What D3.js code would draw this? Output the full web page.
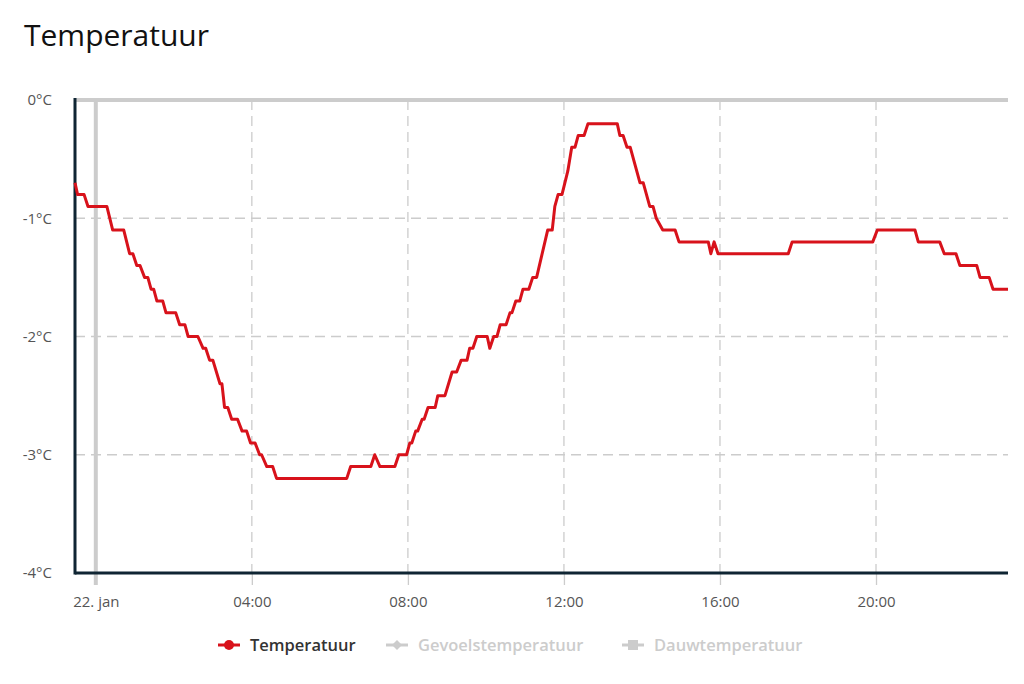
<!DOCTYPE html>
<html>
<head>
<meta charset="utf-8">
<script src="https://cdn.jsdelivr.net/npm/d3@7"></script>
<style>
  body { margin: 0; background: #fff; font-family: "Open Sans", sans-serif; }
  #viz svg { display: block; }
</style>
</head>
<body>
<div id="viz"></div>
<script>
// breakpoints of the step-like temperature line (time, °C)
const times = [
  "2024-01-21T23:28", "2024-01-21T23:32", "2024-01-21T23:42", "2024-01-21T23:48",
  "00:17", "00:26", "00:43", "00:52", "00:57", "01:03", "01:08", "01:15", "01:20",
  "01:25", "01:29", "01:34", "01:43", "01:48", "02:03", "02:09", "02:17", "02:22",
  "02:37", "02:45", "02:49", "02:55", "03:00", "03:11", "03:14", "03:18", "03:23",
  "03:29", "03:38", "03:45", "03:52", "03:58", "04:05", "04:12", "04:15", "04:23",
  "04:32", "04:38", "06:26", "06:32", "07:03", "07:09", "07:17", "07:40", "07:46",
  "07:58", "08:03", "08:06", "08:12", "08:15", "08:22", "08:25", "08:31", "08:42",
  "08:46", "08:57", "09:08", "09:15", "09:22", "09:31", "09:35", "09:40", "09:46",
  "10:02", "10:06", "10:12", "10:17", "10:22", "10:31", "10:37", "10:40", "10:46",
  "10:52", "10:57", "11:06", "11:12", "11:18", "11:35", "11:42", "11:46", "11:51",
  "11:57", "12:06", "12:12", "12:17", "12:22", "12:31", "12:37", "13:22", "13:26",
  "13:31", "13:37", "13:42", "13:57", "14:02", "14:12", "14:17", "14:22", "14:32",
  "14:51", "14:57", "15:42", "15:46", "15:51", "15:57", "17:45", "17:51", "19:55",
  "20:02", "21:00", "21:05", "21:38", "21:45", "22:03", "22:09", "22:35", "22:40",
  "22:54", "23:00", "23:23"
];
const temps = [
  -0.7, -0.8, -0.8, -0.9,
  -0.9, -1.1, -1.1, -1.3, -1.3, -1.4, -1.4, -1.5, -1.5,
  -1.6, -1.6, -1.7, -1.7, -1.8, -1.8, -1.9, -1.9, -2.0,
  -2.0, -2.1, -2.1, -2.2, -2.2, -2.4, -2.4, -2.6, -2.6,
  -2.7, -2.7, -2.8, -2.8, -2.9, -2.9, -3.0, -3.0, -3.1,
  -3.1, -3.2, -3.2, -3.1, -3.1, -3.0, -3.1, -3.1, -3.0,
  -3.0, -2.9, -2.9, -2.8, -2.8, -2.7, -2.7, -2.6, -2.6,
  -2.5, -2.5, -2.3, -2.3, -2.2, -2.2, -2.1, -2.1, -2.0,
  -2.0, -2.1, -2.0, -2.0, -1.9, -1.9, -1.8, -1.8, -1.7,
  -1.7, -1.6, -1.6, -1.5, -1.5, -1.1, -1.1, -0.9, -0.8,
  -0.8, -0.6, -0.4, -0.4, -0.3, -0.3, -0.2, -0.2, -0.3,
  -0.3, -0.4, -0.4, -0.7, -0.7, -0.9, -0.9, -1.0, -1.1,
  -1.1, -1.2, -1.2, -1.3, -1.2, -1.3, -1.3, -1.2, -1.2,
  -1.1, -1.1, -1.2, -1.2, -1.3, -1.3, -1.4, -1.4, -1.5,
  -1.5, -1.6, -1.6
];
const yTicks = [0, -1, -2, -3, -4];
const xTickHours = ["2024-01-22T00:00", "2024-01-22T04:00", "2024-01-22T08:00", "2024-01-22T12:00", "2024-01-22T16:00", "2024-01-22T20:00"];
const legendItems = ["Temperatuur", "Gevoelstemperatuur", "Dauwtemperatuur"];

const parse = d3.timeParse("%Y-%m-%dT%H:%M");
const toDate = t => parse(t.length > 5 ? t : "2024-01-22T" + t);
const data = times.map((t, i) => ({ date: toDate(t), value: temps[i] }));

const W = 1024, H = 684;
const margin = { top: 100, right: 16, bottom: 111, left: 75 };
const width = W - margin.left - margin.right;
const height = H - margin.top - margin.bottom;

const root = d3.select("#viz").append("svg")
  .attr("width", W)
  .attr("height", H);

root.append("text")
  .attr("x", 24)
  .attr("y", 46)
  .style("font-size", "30px")
  .style("font-weight", "500")
  .style("fill", "#111")
  .text("Temperatuur");

const svg = root.append("g")
  .attr("transform", `translate(${margin.left},${margin.top})`);

const x = d3.scaleTime()
  .domain(d3.extent(data, d => d.date))
  .range([0, width]);

const y = d3.scaleLinear()
  .domain([-4, 0])
  .range([height, 0]);

// grid
svg.selectAll(".hgrid")
  .data(yTicks.filter(v => v !== 0 && v !== -4))
  .enter().append("line")
  .attr("x1", 0).attr("x2", width)
  .attr("y1", d => y(d)).attr("y2", d => y(d))
  .attr("stroke", "#ccc")
  .attr("stroke-width", 1.3)
  .attr("stroke-dasharray", "10,6");

const xTicks = xTickHours.map(parse);
svg.selectAll(".vgrid")
  .data(xTicks.slice(1))
  .enter().append("line")
  .attr("x1", d => x(d)).attr("x2", d => x(d))
  .attr("y1", 0).attr("y2", height)
  .attr("stroke", "#ccc")
  .attr("stroke-width", 1.3)
  .attr("stroke-dasharray", "10,6");

// top border
svg.append("line")
  .attr("x1", 0).attr("x2", width)
  .attr("y1", y(0)).attr("y2", y(0))
  .attr("stroke", "#ccc")
  .attr("stroke-width", 4);

// day separator
svg.append("line")
  .attr("x1", x(xTicks[0])).attr("x2", x(xTicks[0]))
  .attr("y1", 0).attr("y2", height + 12)
  .attr("stroke", "#ccc")
  .attr("stroke-width", 4);

// x axis
const fmt = d => d.getHours() === 0 ? "22. jan" : d3.timeFormat("%H:%M")(d);
const xAxis = svg.append("g")
  .attr("transform", `translate(0,${height})`)
  .call(d3.axisBottom(x).tickValues(xTicks).tickFormat(fmt).tickSize(12).tickPadding(11));
xAxis.select(".domain").remove();
xAxis.selectAll(".tick line").attr("stroke", "#ccc").attr("stroke-width", 1.3);
xAxis.selectAll("text").style("font-size", "15px").style("fill", "#555").style("font-family", "Open Sans, sans-serif");

// y axis
const yAxis = svg.append("g")
  .call(d3.axisLeft(y).tickValues(yTicks).tickFormat(d => d + "°C").tickSize(0).tickPadding(23));
yAxis.select(".domain").remove();
yAxis.selectAll("text").style("font-size", "15px").style("fill", "#555").style("font-family", "Open Sans, sans-serif");

// axis lines
svg.append("line")
  .attr("x1", 0).attr("x2", 0)
  .attr("y1", -2).attr("y2", height + 1.5)
  .attr("stroke", "#0f2533")
  .attr("stroke-width", 3);
svg.append("line")
  .attr("x1", 0).attr("x2", width)
  .attr("y1", height).attr("y2", height)
  .attr("stroke", "#0f2533")
  .attr("stroke-width", 3);

// temperature line
const line = d3.line().x(d => x(d.date)).y(d => y(d.value));
svg.append("path")
  .datum(data)
  .attr("fill", "none")
  .attr("stroke", "#d8121b")
  .attr("stroke-width", 3)
  .attr("stroke-linejoin", "round")
  .attr("d", line);

// legend
const legendX = [218, 386, 622];
const legendColor = ["#d8121b", "#ccc", "#ccc"];
const legendText = ["#333", "#ccc", "#ccc"];
const lg = root.append("g").attr("transform", "translate(0,645)");
legendItems.forEach((name, i) => {
  const g = lg.append("g").attr("transform", `translate(${legendX[i]},0)`);
  g.append("line").attr("x1", 0).attr("x2", 22).attr("y1", 0).attr("y2", 0)
    .attr("stroke", legendColor[i]).attr("stroke-width", 3);
  if (i === 0) {
    g.append("circle").attr("cx", 11).attr("cy", 0).attr("r", 5).attr("fill", legendColor[i]);
  } else if (i === 1) {
    g.append("path").attr("d", "M11,-5L16,0L11,5L6,0Z").attr("fill", legendColor[i]);
  } else {
    g.append("rect").attr("x", 6).attr("y", -5).attr("width", 10).attr("height", 10).attr("fill", legendColor[i]);
  }
  g.append("text")
    .attr("x", 32)
    .attr("y", 6)
    .style("font-size", "16.5px")
    .style("font-weight", "600")
    .style("fill", legendText[i])
    .text(name);
});
</script>
</body>
</html>
